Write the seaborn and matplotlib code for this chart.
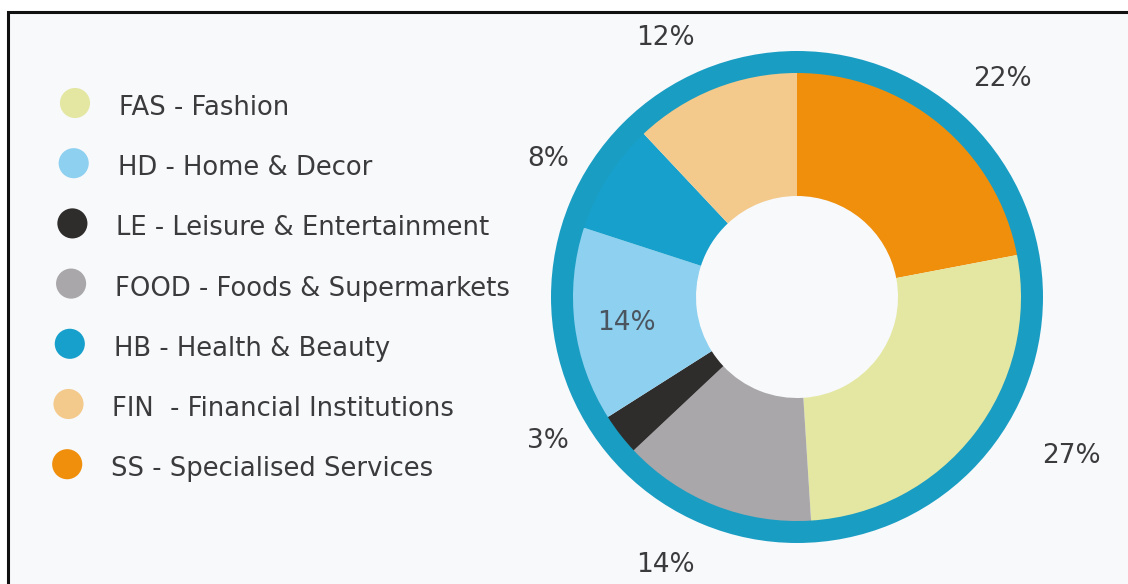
import matplotlib
matplotlib.use("Agg")
import matplotlib.pyplot as plt
from matplotlib.patches import Rectangle
import numpy as np
import seaborn as sns

# Tenant mix by category (share of units, %)
codes = ["SS", "FAS", "FOOD", "LE", "HD", "HB", "FIN"]
shares = [22, 27, 14, 3, 14, 8, 12]
slice_colors = ["#ef8f0c", "#e4e7a2", "#a9a7a9", "#2f2c2c", "#8dd0ef", "#16a0cb", "#f3c98c"]

legend_codes = ["FAS", "HD", "LE", "FOOD", "HB", "FIN", "SS"]
legend_labels = [
    "FAS - Fashion",
    "HD - Home & Decor",
    "LE - Leisure & Entertainment",
    "FOOD - Foods & Supermarkets",
    "HB - Health & Beauty",
    "FIN  - Financial Institutions",
    "SS - Specialised Services",
]

ring_color = "#1a9dc3"
text_color = "#3b3b3d"

# per-slice label placement: (angle shift in degrees, radius in ring units)
label_place = {
    "SS": (-3.7, 1.22),
    "FAS": (7.8, 1.29),
    "FOOD": (-4.6, 1.215),
    "LE": (-7.8, 1.167),
    "HD": (1.5, 0.70),
    "HB": (3.4, 1.155),
    "FIN": (5.4, 1.18),
}

sns.set_theme(style="white")
plt.rcParams["font.family"] = ["DejaVu Sans"]

W, H = 1128, 584
fig = plt.figure(figsize=(W / 100, H / 100), dpi=100)
fig.patch.set_facecolor("white")

# full-figure overlay in pixel coordinates for frame and legend
bg = fig.add_axes([0, 0, 1, 1])
bg.set_xlim(0, W)
bg.set_ylim(H, 0)
bg.axis("off")
bg.add_patch(Rectangle((8, 12), W + 20, H + 20, facecolor="#f8f9fb",
                       edgecolor="#111111", linewidth=2.2, zorder=0))

color_of = dict(zip(codes, slice_colors))
for i, (code, lab) in enumerate(zip(legend_codes, legend_labels)):
    y = 103 + 60.2 * i
    dx = -1.3 * i
    bg.scatter([75 + dx], [y], s=470, color=color_of[code], edgecolors="none", zorder=2)
    bg.text(119 + dx, y + 5, lab, fontsize=18.6, color=text_color,
            va="center", ha="left", zorder=3)

# donut axes, square box centred on the ring
cx, cy, R = 797, 297, 246
ax = fig.add_axes([(cx - R) / W, (H - cy - R) / H, 2 * R / W, 2 * R / H])
ax.set_facecolor("none")

r_slice = 224 / R
r_hole = 101 / R

ax.pie([1], radius=1.0, colors=[ring_color], startangle=90,
       wedgeprops=dict(width=1.0 - r_slice + 0.004, linewidth=0))
wedges, _ = ax.pie(shares, radius=r_slice, colors=slice_colors, startangle=90,
                   counterclock=False,
                   wedgeprops=dict(width=r_slice - r_hole, linewidth=0))

for w, code, val in zip(wedges, codes, shares):
    mid = 0.5 * (w.theta1 + w.theta2)
    shift, rad = label_place[code]
    ang = np.deg2rad(mid + shift)
    col = "#4b5560" if code == "HD" else text_color
    ax.text(rad * np.cos(ang), rad * np.sin(ang), f"{val}%",
            fontsize=19, color=col, ha="center", va="center")

ax.set_xlim(-1, 1)
ax.set_ylim(-1, 1)
ax.set_aspect("equal")
ax.axis("off")

fig.savefig("out.png", dpi=100, facecolor=fig.get_facecolor())
